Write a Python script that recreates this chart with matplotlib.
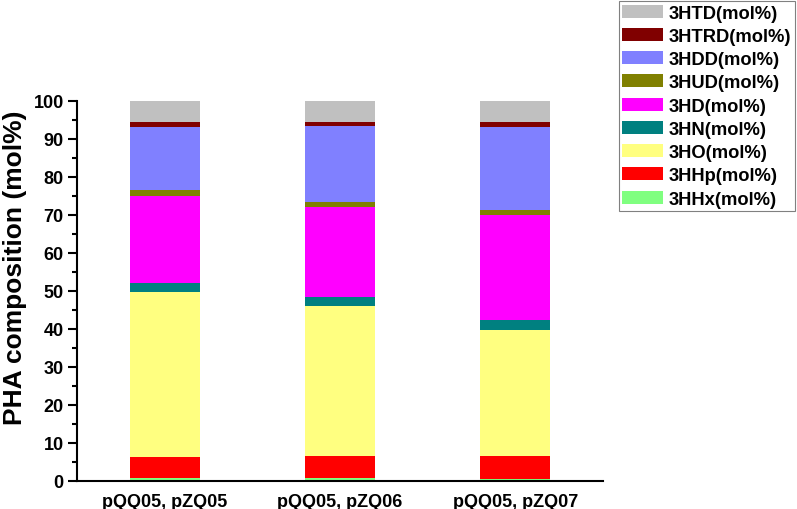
import matplotlib.pyplot as plt
from matplotlib.ticker import MultipleLocator

plt.rcParams['font.family'] = ['Liberation Sans', 'DejaVu Sans']
plt.rcParams['font.weight'] = 'bold'

samples = ['pQQ05, pZQ05', 'pQQ05, pZQ06', 'pQQ05, pZQ07']

# stacked from bottom to top
components = ['3HHx(mol%)', '3HHp(mol%)', '3HO(mol%)', '3HN(mol%)', '3HD(mol%)',
              '3HUD(mol%)', '3HDD(mol%)', '3HTRD(mol%)', '3HTD(mol%)']
hhx = [0.7, 0.7, 0.5]
hhp = [5.5, 6.0, 6.0]
ho = [43.5, 39.3, 33.3]
hn = [2.3, 2.3, 2.6]
hd = [22.9, 23.9, 27.7]
hud = [1.6, 1.1, 1.2]
hdd = [16.7, 20.2, 21.9]
htrd = [1.2, 0.9, 1.2]
htd = [5.6, 5.6, 5.6]
couleurs = ['#80FF80', '#FF0000', '#FFFF80', '#008080', '#FF00FF',
            '#808000', '#8080FF', '#800000', '#C0C0C0']

series = [hhx, hhp, ho, hn, hd, hud, hdd, htrd, htd]

fig = plt.figure(figsize=(7.97, 5.10), dpi=100)
ax = fig.add_axes([77 / 797, 28 / 510, 526 / 797, 380 / 510])

x = [1, 2, 3]
bas = [0, 0, 0]
barres = []
for vals, nom, c in zip(series, components, couleurs):
    b = ax.bar(x, vals, width=0.4, bottom=bas, color=c, label=nom, linewidth=0)
    barres.append(b)
    bas = [a + v for a, v in zip(bas, vals)]

ax.set_xlim(0.5, 3.5)
ax.set_ylim(0, 100)
ax.set_xticks(x)
ax.set_xticklabels(samples, fontsize=13, fontweight='bold')
ax.yaxis.set_major_locator(MultipleLocator(10))
ax.yaxis.set_minor_locator(MultipleLocator(5))
ax.tick_params(axis='y', which='major', length=6.5, width=1.5, labelsize=13, direction='out', pad=3)
ax.tick_params(axis='y', which='minor', length=3.6, width=1.5, direction='out')
ax.tick_params(axis='x', length=0, pad=9)
for lab in ax.get_yticklabels():
    lab.set_fontweight('bold')
ax.spines['top'].set_visible(False)
ax.spines['right'].set_visible(False)
ax.spines['left'].set_linewidth(1.5)
ax.spines['bottom'].set_linewidth(1.5)
ax.set_ylabel('PHA composition (mol%)', fontsize=19, fontweight='bold')
ax.yaxis.set_label_coords(-0.095, 0.563)

handles = barres[::-1]
labels = components[::-1]
leg = fig.legend(handles, labels, loc='upper right', bbox_to_anchor=(795 / 797, 1 - 2 / 510),
                 prop={'weight': 'bold', 'size': 13.2}, fancybox=False,
                 edgecolor='#808080', handlelength=2.2, handleheight=0.71,
                 labelspacing=0.34, borderpad=0.2, handletextpad=0.33, framealpha=1,
                 borderaxespad=0)
leg.get_frame().set_linewidth(0.8)

plt.savefig('out.png', dpi=100)
